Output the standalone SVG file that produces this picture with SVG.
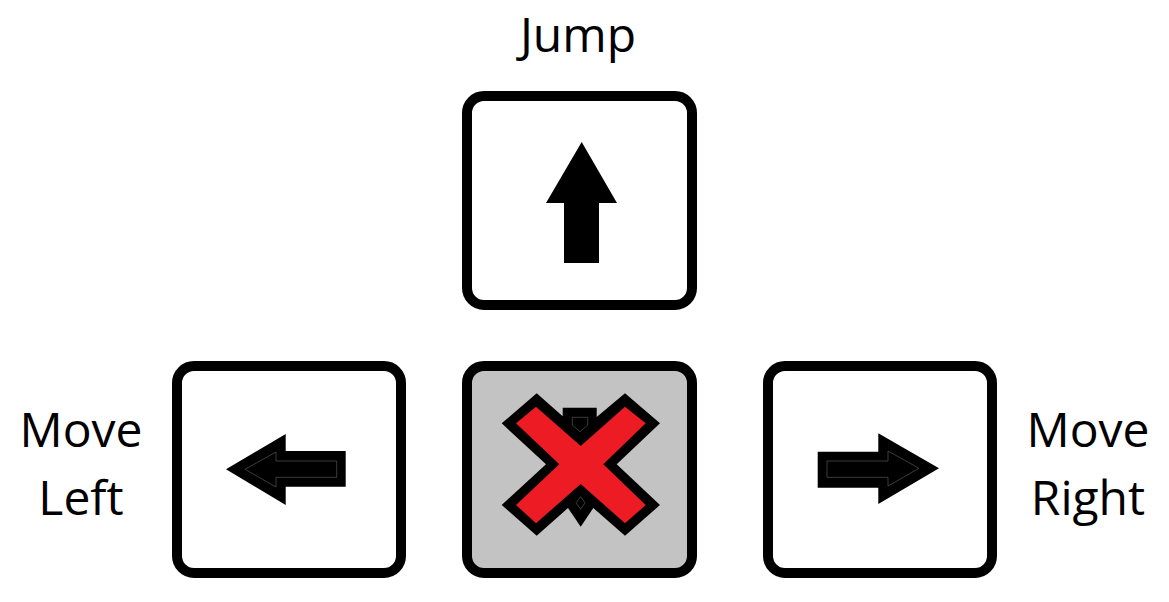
<svg xmlns="http://www.w3.org/2000/svg" width="1169" height="602" viewBox="0 0 1169 602">
<style>
.key{fill:#ffffff;stroke:#000000;stroke-width:10}
.keyoff{fill:#c3c3c3;stroke:#000000;stroke-width:10}
.lbl{font-family:"Open Sans","Noto Sans",sans-serif;font-size:48px;fill:#000000;text-anchor:middle}
.glyph{fill:#000000}
.hair{fill:none;stroke:#555555;stroke-width:0.7}
</style>
<rect width="1169" height="602" fill="#ffffff"/>
<g id="jump-label"><text class="lbl" x="578" y="52">Jump</text></g>
<g id="key-up">
<rect class="key" x="467" y="96" width="225" height="209" rx="17"/>
<polygon class="glyph" points="581.7,142 617,203 599,203 599,263 564,263 564,203 546,203"/>
</g>
<g id="key-left">
<rect class="key" x="177" y="366" width="224" height="207" rx="17"/>
<polygon class="glyph" points="226,469.3 285.7,434 285.7,451 345.7,451 345.7,486.7 285.7,486.7 285.7,505"/>
<polygon class="hair" points="245,469.3 276,452 276,461 336.7,461 336.7,477.3 276,477.3 276,487"/>
</g>
<g id="key-center">
<rect class="keyoff" x="467" y="366" width="225" height="207" rx="17"/>
<polygon class="glyph" points="501.7,423.3 536.7,393.3 562.7,416.2 562.7,407.7 596.7,407.7 596.7,417 625,393.3 660,423.3 616.7,464.3 660,505 625,535.7 593.3,508 580.7,526.7 568,508 536.7,535.7 501.7,505 546,464.3"/>
<polygon fill="#ed1c24" points="516,423.3 536,406.7 580.7,446 625,406.7 645.7,423.3 603.3,464.3 645.7,505 625,523.3 580.7,484 536,523.3 516,505 559.3,464.3"/>
<polygon class="hair" points="572.3,417.3 587.7,417.3 587.7,425 580,431.7 572.3,425"/>
<polygon class="hair" points="580.7,496.7 585,502.7 580.7,509.3 576,502.7"/>
</g>
<g id="key-right">
<rect class="key" x="768" y="366" width="224" height="207" rx="17"/>
<polygon class="glyph" points="817.7,451.7 878.3,451.7 878.3,433.3 939,468.3 878.3,504 878.3,487.7 817.7,487.7"/>
<polygon class="hair" points="827,461 888,461 888,451 919,468.3 888,486 888,477.3 827,477.3"/>
</g>
<g id="left-label"><text class="lbl" x="81" y="447">Move</text><text class="lbl" x="81" y="515">Left</text></g>
<g id="right-label"><text class="lbl" x="1088" y="447">Move</text><text class="lbl" x="1088" y="515">Right</text></g>
<g id="connectors"></g>
</svg>
